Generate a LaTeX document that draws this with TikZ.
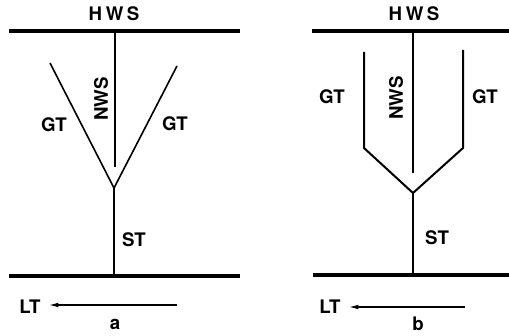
\documentclass[tikz,border=0pt]{standalone}
\usepackage{fontspec}
\setmainfont{TeX Gyre Heros}
\usetikzlibrary{arrows.meta}
\tikzset{every picture/.style={line width=0.75pt}}
\tikzset{
  lbl/.style={font=\fontsize{14}{16}\selectfont\bfseries, inner sep=0pt},
  wide/.style={lbl, font=\fontsize{14}{16}\selectfont\bfseries\addfontfeature{LetterSpace=20}},
  level/.style={line width=2.4pt},
  trench/.style={line width=1.5pt},
  flow/.style={line width=0.9pt, shorten >=6pt, -{Latex[length=7pt,width=3.5pt]}}
}

\begin{document}
\begin{tikzpicture}[x=0.75pt,y=0.75pt,yscale=-1,xscale=1]
        \useasboundingbox (0,0) rectangle (509,335);

        % panel a
        \coordinate (hwsLa) at (9,31);
        \coordinate (hwsRa) at (240,31);
        \coordinate (topa) at (115,31);
        \coordinate (nwsa) at (115,167);
        \coordinate (gtla) at (50,63);
        \coordinate (gtra) at (177,66);
        \coordinate (joina) at (114,188);
        \coordinate (bota) at (114,276);
        \coordinate (ltLa) at (9,276);
        \coordinate (ltRa) at (240,276);
        \coordinate (arra) at (177,305);

        \node[wide] (hwsa) at (114,14){HWS};
        \node[lbl,rotate=90] (nwslbla) at (101,99){NWS};
        \node[lbl] (gtlbla) at (54,125){GT};
        \node[lbl] (gtrbla) at (175,124){GT};
        \node[lbl] (stlbla) at (134,240){ST};
        \node[lbl] (lta) at (30,307){LT};
        \node[lbl] (capa) at (115,324){a};

        \draw[level] (hwsLa) -- (hwsRa);
        \draw[level] (ltLa) -- (ltRa);
        \draw[trench] (topa) -- (nwsa);
        \draw[line width=1.2pt] (gtla) -- (joina) -- (gtra);
        \draw[trench] (joina) -- (bota);
        \draw[flow] (arra) -- (lta.east |- arra);

        % panel b
        \coordinate (hwsLb) at (312,31);
        \coordinate (hwsRb) at (509,31);
        \coordinate (topb) at (413,31);
        \coordinate (nwsb) at (413,173);
        \coordinate (gtlb) at (364,52);
        \coordinate (kinklb) at (364,148);
        \coordinate (gtrb) at (463,50);
        \coordinate (kinkrb) at (463,148);
        \coordinate (joinb) at (413,193);
        \coordinate (botb) at (413,275);
        \coordinate (ltLb) at (313,275);
        \coordinate (ltRb) at (509,275);
        \coordinate (arrb) at (465,307);

        \node[wide] (hwsb) at (414,14){HWS};
        \node[lbl,rotate=90] (nwslblb) at (396,98){NWS};
        \node[lbl] (gtlblb) at (332,97){GT};
        \node[lbl] (gtrblb) at (485,97){GT};
        \node[lbl] (stlblb) at (437,238){ST};
        \node[lbl] (ltb) at (330,307){LT};
        \node[lbl] (capb) at (418,324){b};

        \draw[level] (hwsLb) -- (hwsRb);
        \draw[level] (ltLb) -- (ltRb);
        \draw[trench] (topb) -- (nwsb);
        \draw[trench] (gtlb) -- (kinklb) -- (joinb) -- (kinkrb) -- (gtrb);
        \draw[trench] (joinb) -- (botb);
        \draw[flow] (arrb) -- (ltb.east |- arrb);
\end{tikzpicture}
\end{document}
